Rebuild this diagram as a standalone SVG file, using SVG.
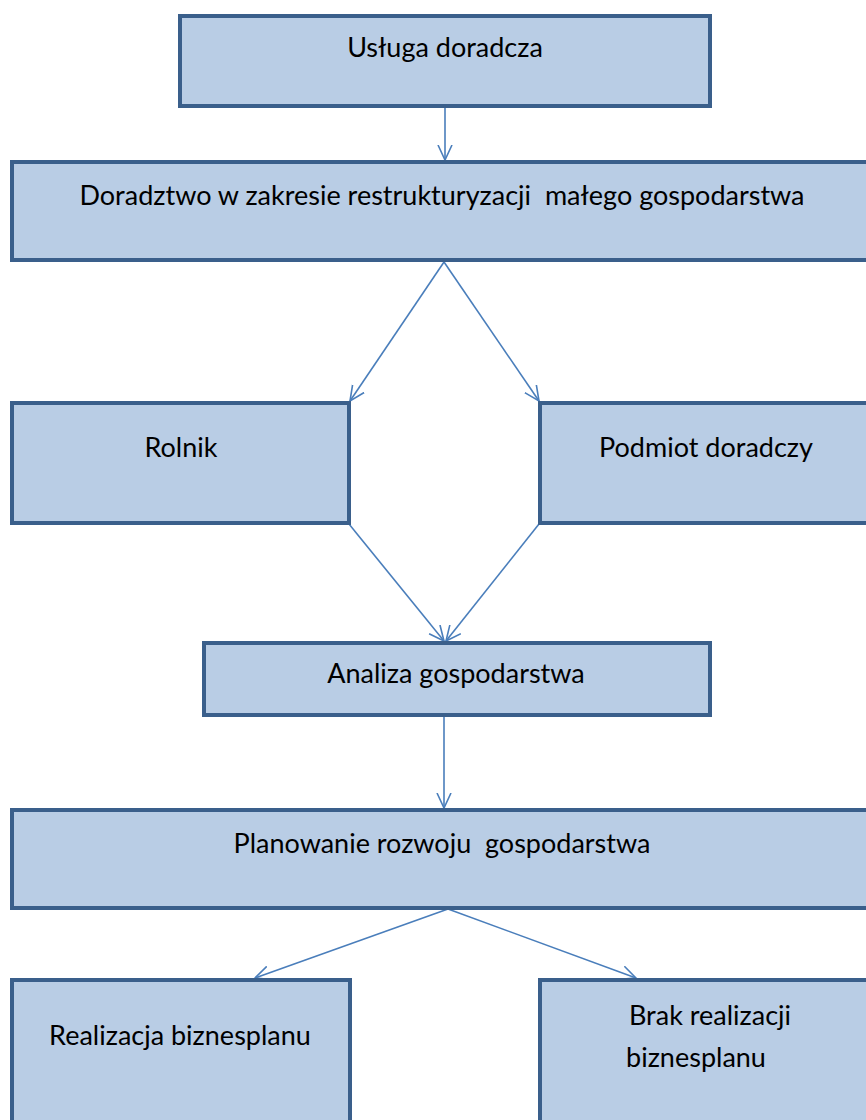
<svg xmlns="http://www.w3.org/2000/svg" width="866" height="1120" viewBox="0 0 866 1120">
<style>
.box{fill:#B9CDE5;stroke:#3A5F8B;stroke-width:4}
.lbl{font-family:Lato,"Open Sans","Liberation Sans",sans-serif;font-size:27px;fill:#000;text-anchor:middle}
.con{stroke:#4A7EBB;stroke-width:1.6;fill:none;marker-end:url(#arr)}
</style>
<defs>
<marker id="arr" markerUnits="userSpaceOnUse" viewBox="0 0 16 16" refX="15" refY="8" markerWidth="16" markerHeight="16" orient="auto">
<path d="M0,1 L15,8 L0,15" fill="none" stroke="#4A7EBB" stroke-width="1.6"/>
</marker>
</defs>
<rect width="866" height="1120" fill="#fff"/>
<g id="connectors">
<line class="con" x1="445" y1="107" x2="445" y2="160"/>
<line class="con" x1="444" y1="262" x2="350" y2="401"/>
<line class="con" x1="444" y1="262" x2="539" y2="401"/>
<line class="con" x1="349" y1="524" x2="444" y2="641"/>
<line class="con" x1="539" y1="524" x2="446" y2="641"/>
<line class="con" x1="444" y1="716" x2="444" y2="808"/>
<line class="con" x1="448" y1="909" x2="255" y2="978"/>
<line class="con" x1="448" y1="909" x2="636" y2="978"/>
</g>
<g id="n1"><rect class="box" x="180" y="16" width="530" height="90"/><text class="lbl" x="445" y="57">Usługa doradcza</text></g>
<g id="n2"><rect class="box" x="12" y="162" width="870" height="98"/><text class="lbl" x="442" y="205" xml:space="preserve">Doradztwo w zakresie restrukturyzacji  małego gospodarstwa</text></g>
<g id="n3"><rect class="box" x="12" y="403" width="337" height="120"/><text class="lbl" x="181" y="457">Rolnik</text></g>
<g id="n4"><rect class="box" x="540" y="403" width="340" height="120"/><text class="lbl" x="706" y="457">Podmiot doradczy</text></g>
<g id="n5"><rect class="box" x="204" y="643" width="506" height="72"/><text class="lbl" x="456" y="683">Analiza gospodarstwa</text></g>
<g id="n6"><rect class="box" x="12" y="810" width="870" height="98"/><text class="lbl" x="442" y="853" xml:space="preserve">Planowanie rozwoju  gospodarstwa</text></g>
<g id="n7"><rect class="box" x="12" y="980" width="338" height="160"/><text class="lbl" x="180" y="1045">Realizacja biznesplanu</text></g>
<g id="n8"><rect class="box" x="540" y="980" width="340" height="160"/><text class="lbl" x="710" y="1025">Brak realizacji</text><text class="lbl" x="696" y="1067">biznesplanu</text></g>
</svg>
